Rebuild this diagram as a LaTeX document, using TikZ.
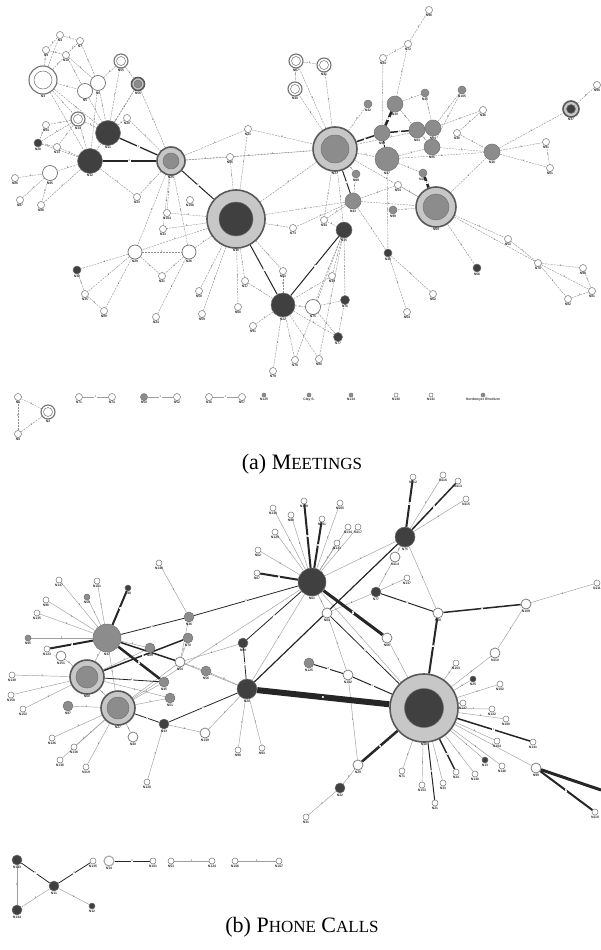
\documentclass[tikz,border=0pt]{standalone}
\usepackage{fontspec}
\setmainfont{Liberation Serif}
\newfontfamily\tinyfont{Liberation Sans}
\usetikzlibrary{backgrounds}
\pgfdeclarelayer{bg}
\pgfsetlayers{bg,main}

\begin{document}
\begin{tikzpicture}[x=1pt, y=-1pt,
		nd/.style={circle, inner sep=0pt, draw=black!55, line width=0.5pt, minimum size=#1},
		wn/.style={nd=#1, fill=white},
		gn/.style={nd=#1, fill=black!45},
		dn/.style={nd=#1, fill=black!75},
		rg/.style={nd=#1, fill=black!22, draw=black!65, line width=1.6pt},
		wr/.style={nd=#1, fill=white, draw=black!55, line width=1.1pt},
		lb/.style={font=\tinyfont\bfseries\fontsize{3.4}{3.4}\selectfont, text=black!80, inner sep=0.6pt},
		ea/.style={draw=black!45, dash pattern=on 2pt off 1pt, line width=0.4pt},
		eb/.style={draw=black!38, line width=0.45pt},
		ek/.style={draw=black!85, line width=#1},
		el/.style={font=\tinyfont\fontsize{2.8}{2.8}\selectfont, text=black!75, inner sep=0.3pt}]
	\useasboundingbox (0,0) rectangle (601,950);

	% ---------- (a) meetings ----------
	% small white nodes
	\foreach \n/\x/\y in {N4/60/35, N7/80/41, N9/46/50, N10/66/55, N20/127/118, N94/46/125,
		N13/57/147, N86/15/178, N87/20/200, N88/41/205, N23/137/197, N106/190/200,
		N31/248/129, N65/230/157, N96/429/10, N72/408/44, N34/383/58, N46/483/110, N51/546/142,
		N61/550/168, N48/457/133, N54/398/185, N104/167/213, N33/163/229, N73/293/228,
		N44/324/220, N21/162/276, N35/85/294, N89/104/311, N24/156/317, N58/199/291,
		N59/202/314, N17/245/281, N60/238/307, N63/283/271, N91/253/326, N79/273/371,
		N78/295/360, N80/319/359, N39/332/276, N62/433/294, N64/407/312, N53/508/239,
		N70/538/263, N90/583/268, N81/592/291, N82/568/299, N98/597/85}
		\node[wn=7, label={[lb]below:\n}] (a\n) at (\x,\y) {};
	% larger white nodes
	\foreach \n/\x/\y/\s in {N5/85/91/15, N6/98/83/15, N95/50/173/15, N29/135/252/14,
		N26/189/252/14, N75/313/307/15}
		\node[wn=\s, line width=0.7pt, label={[lb]below:\n}] (a\n) at (\x,\y) {};
	% white double rings
	\foreach \n/\x/\y/\s/\t in {N3/43/80/28/18, N55/121/61/14/9, N14/78/119/14/9,
		N67/296/61/14/9, N41/324/65/14/9, N40/295/89/14/9}
	{
		\node[wr=\s, label={[lb]below:\n}] (a\n) at (\x,\y) {};
		\node[wn=\t] (a\n c) at (a\n) {};
	}
	% grey nodes
	\foreach \n/\x/\y/\s in {N42/368/104/8, N45/425/93/8, N105/462/90/8, N49/356/174/8,
		N110/423/173/8, N99/393/210/8, N43/353/201/16, N30/395/104/16, N92/382/133/16,
		N83/417/130/16, N84/433/128/16, N85/432/147/16, N36/492/152/16, N47/387/159/24}
		\node[gn=\s, label={[lb]below:\n}] (a\n) at (\x,\y) {};
	% dark nodes
	\foreach \n/\x/\y/\s in {N11/108/133/25, N12/90/161/25, N22/283/305/24, N15/344/230/16,
		N28/38/143/8, N32/77/270/8, N76/345/300/9, N77/338/337/9, N38/388/253/8, N66/477/268/8}
		\node[dn=\s, label={[lb]below:\n}] (a\n) at (\x,\y) {};
	% ringed nodes
	\node[rg=13, label={[lb]below:N56}] (aN56) at (138,84) {};
	\node[gn=8] (aN56c) at (aN56) {};
	\node[rg=16, label={[lb]below:N37}] (aN37) at (571,109) {};
	\node[dn=9] (aN37c) at (aN37) {};
	\node[rg=28, label={[lb]below:N25}] (aN25) at (171,161) {};
	\node[gn=16] (aN25c) at (aN25) {};
	\node[rg=44, label={[lb]below:N27}] (aN27) at (335,149) {};
	\node[gn=28] (aN27c) at (aN27) {};
	\node[rg=58, label={[lb]below:N18}] (aN18) at (236,219) {};
	\node[dn=34] (aN18c) at (aN18) {};
	\node[rg=40, label={[lb]below:N69}] (aN69) at (436,207) {};
	\node[gn=26] (aN69c) at (aN69) {};

	% isolated meetings
	\foreach \n/\x/\y in {N1/18/397, N8/18/434, N71/79/397, N74/112/397, N52/177/397,
		N16/209/397, N57/242/397}
		\node[wn=7, label={[lb]below:\n}] (a\n) at (\x,\y) {};
	\node[wr=14, label={[lb]below:N2}] (aN2) at (48,412) {};
	\node[wn=9] (aN2c) at (aN2) {};
	\node[gn=7, label={[lb]below:N50}] (aN50) at (144,397) {};
	\foreach \n/\t/\x/\c in {I1/N125/264/45, I2/Clay S./309/45, I3/N134/351/45,
		I4/N140/396/0, I5/N141/431/0, I6/Nordmeyer Rhodium/483/45}
		\node[nd=4, fill=black!\c, label={[lb]below:\t}] (a\n) at (\x,395) {};

	\node[font=\fontsize{22}{26}\selectfont] (capa) at (302,464)
		{(a) M{\fontsize{17}{20}\selectfont EETINGS}};

	% ---------- (b) phone calls ----------
	% small white nodes
	\foreach \n/\x/\y in {N130/273/508, N80/291/515, N129/275/532, N62/258/550, N67/257/573,
		N148/159/563, N147/59/580, N121/97/581, N96/46/600, N135/37/613, N112/413/477,
		N116/443/475, N113/458/481, N115/466/499, N128/304/501, N105/340/503, N131/322/519,
		N134/348/527, N117/358/527, N133/337/543, N137/407/578, N123/47/649, N149/12/675,
		N150/11/695, N152/23/709, N126/52/738, N138/74/747, N136/60/760, N119/86/767,
		N120/147/782, N98/238/750, N93/262/748, N31/306/817, N71/402/771, N153/422/785,
		N21/435/803, N33/443/783, N34/456/772, N140/475/774, N146/502/766, N141/533/742,
		N104/497/741, N100/506/719, N122/492/709, N127/463/703, N102/500/684, N103/456/663,
		N118/595/812, N111/597/583, N145/93/861, N101/153/861, N53/171/861, N124/212/861,
		N106/235/861, N107/279/861}
		\node[wn=6, label={[lb]below:\n}] (b\n) at (\x,\y) {};
	% larger white nodes
	\foreach \n/\x/\y in {N114/395/557, N64/327/613, N58/438/613, N109/526/604, N151/61/656,
		N54/180/662, N40/133/737, N139/205/733, N66/387/638, N142/348/675, N29/358/765,
		N110/495/653, N99/536/768}
		\node[wn=10, line width=0.7pt, label={[lb]below:\n}] (b\n) at (\x,\y) {};
	\node[wr=10, draw=black!35, label={[lb]below:N14}] (bN14) at (109,861) {};
	% grey nodes
	\foreach \n/\x/\y/\s in {N95/28/638/6, N50/87/597/6, N36/189/617/10, N89/150/648/10,
		N70/188/638/10, N56/206/671/10, N45/164/682/10, N51/170/698/10, N97/68/706/10,
		N125/309/663/10, N47/107/638/28}
		\node[gn=\s, label={[lb]below:\n}] (b\n) at (\x,\y) {};
	% dark nodes
	\foreach \n/\x/\y/\s in {N48/128/588/6, N25/473/679/6, N13/485/760/6, N77/376/592/10,
		N69/243/643/10, N43/164/724/10, N22/340/788/10, N61/312/582/28, N75/405/537/20,
		N20/247/689/20, N143/17/860/10, N144/17/910/10, N11/54/886/10, N12/92/906/6}
		\node[dn=\s, label={[lb]below:\n}] (b\n) at (\x,\y) {};
	% ringed nodes
	\node[rg=34, label={[lb]below:N68}] (bN68) at (87,677) {};
	\node[gn=22] (bN68c) at (bN68) {};
	\node[rg=34, label={[lb]below:N27}] (bN27) at (118,708) {};
	\node[gn=22] (bN27c) at (bN27) {};
	\node[rg=68, label={[lb]below:N18}] (bN18) at (424,708) {};
	\node[dn=39] (bN18c) at (bN18) {};
	\coordinate (bout) at (601,790);

	\node[font=\fontsize{22}{26}\selectfont] (capb) at (302,927)
		{(b) P{\fontsize{17}{20}\selectfont HONE} C{\fontsize{17}{20}\selectfont ALLS}};

	% ---------- connectors ----------
	\begin{pgfonlayer}{bg}
		% meetings
		\foreach \u/\v/\w in {N3/N9/1, N3/N4/1, N3/N10/2, N3/N5/1, N3/N11/1, N3/N12/1, N3/N14/1,
			N4/N7/1, N4/N9/1, N7/N10/1, N9/N10/1, N10/N5/1, N10/N6/1, N7/N6/1, N5/N6/2, N5/N11/1,
			N6/N11/1, N6/N12/1, N55/N56/1, N55/N11/1, N55/N6/1, N56/N11/1, N56/N12/1, N56/N25/1,
			N14/N94/1, N14/N11/1, N14/N12/1, N14/N13/1, N14/N28/1, N28/N13/1, N28/N12/1,
			N94/N28/1, N11/N20/1, N20/N25/1, N12/N95/2, N12/N88/1, N12/N13/1, N95/N86/1,
			N95/N87/1, N95/N88/1, N12/N23/1, N25/N31/1, N25/N65/1, N25/N27/2, N25/N23/1,
			N25/N104/1, N25/N33/1, N25/N26/1, N25/N29/1, N18/N27/2, N18/N26/1,
			N18/N29/1, N18/N104/1, N18/N33/1, N18/N73/1, N18/N17/1, N18/N58/1, N18/N59/1,
			N18/N43/2, N18/N60/1, N18/N31/1, N18/N65/1, N31/N27/1, N65/N27/1,
			N27/N67/1, N27/N41/1, N27/N40/1, N27/N42/1, N27/N47/2, N27/N49/1, N27/N84/1,
			N27/N69/1, N27/N44/1, N67/N41/1, N67/N40/1, N34/N72/1, N72/N96/1, N34/N92/1,
			N72/N30/1, N30/N45/1, N30/N83/1, N45/N84/1, N105/N84/1, N105/N85/1, N46/N84/1,
			N46/N48/1, N83/N84/2, N84/N85/1, N85/N47/1, N85/N36/1, N48/N36/1, N47/N36/1,
			N47/N110/1, N83/N85/1, N36/N37/1, N36/N51/1, N36/N61/1, N51/N61/1, N37/N98/1,
			N36/N69/1, N69/N53/1, N53/N70/1, N69/N70/1, N70/N90/1, N70/N81/1, N70/N82/1,
			N90/N81/1, N82/N81/1, N69/N66/1, N69/N54/1, N69/N99/1, N43/N49/1, N43/N73/1,
			N43/N44/1, N44/N15/1, N15/N39/1, N15/N76/1, N15/N75/1, N15/N80/1, N15/N78/1,
			N22/N63/1, N22/N17/1, N22/N91/1, N22/N79/1, N22/N78/1, N22/N75/2, N22/N77/1,
			N22/N39/1, N22/N80/1, N75/N76/1, N75/N77/1, N76/N77/1, N43/N38/1, N38/N62/1,
			N38/N64/1, N47/N38/1, N29/N32/1, N29/N35/1, N29/N89/1, N29/N26/1, N29/N21/1,
			N26/N21/1, N26/N24/1, N32/N35/1, N35/N89/1, N18/N63/1, N43/N69/1, N54/N43/1,
			N27/N15/1, N1/N8/1, N1/N2/1, N8/N2/1}
			\draw[ea] (a\u) -- node[el]{\w} (a\v);
		\foreach \u/\v/\w in {N71/N74/1, N50/N52/1, N16/N57/1}
			\draw[eb] (a\u) -- node[el, fill=white]{\w} (a\v);
		\foreach \u/\v/\t in {N11/N25/1.3pt, N12/N25/1.3pt, N25/N18/1pt, N18/N22/1pt,
			N27/N92/1.5pt, N27/N43/1pt, N83/N92/1.5pt, N110/N69/2.5pt, N15/N22/1pt,
			N92/N47/1pt, N30/N92/2.5pt}
			\draw[ek=\t] (a\u) -- node[el, fill=white]{2} (a\v);

		% phone calls
		\foreach \u/\v/\w in {N61/N130/1, N61/N80/1, N61/N129/1, N61/N62/1, N61/N105/1,
			N61/N134/1, N61/N117/1, N61/N133/1, N61/N64/1, N61/N18/1, N61/N75/1, N75/N116/1,
			N75/N115/1, N75/N114/1, N75/N58/1, N77/N137/1, N77/N114/1, N77/N64/1, N109/N111/1,
			N109/N110/1, N18/N66/1, N18/N71/1, N18/N153/1, N18/N33/1, N18/N140/1, N18/N13/1,
			N18/N146/1, N18/N99/1, N18/N104/1, N18/N100/1, N18/N122/1, N18/N127/1, N18/N102/1,
			N18/N25/1, N18/N103/1, N18/N110/1, N142/N29/1, N64/N142/1, N29/N22/1, N22/N31/1,
			N20/N98/1, N20/N93/1, N20/N56/1, N20/N139/1, N20/N54/1, N20/N61/1, N47/N95/1,
			N47/N147/1, N47/N121/1, N47/N50/1, N47/N96/1, N47/N135/1, N47/N68/1, N47/N27/1,
			N47/N89/1, N68/N149/1, N68/N150/1, N68/N152/1, N68/N151/1, N68/N27/1, N68/N51/1,
			N68/N89/1, N27/N126/1, N27/N138/1, N27/N136/1, N27/N119/1, N27/N97/1, N27/N45/1,
			N27/N51/1, N27/N40/1, N27/N54/1, N27/N61/1, N43/N120/1, N43/N139/1, N36/N148/1,
			N36/N54/1, N54/N70/1, N54/N56/1, N54/N69/1, N143/N144/1, N144/N11/1, N11/N12/1,
			N53/N124/1, N106/N107/1}
			\draw[eb] (b\u) -- node[el]{\w} (b\v);
		\foreach \u/\v/\t in {N61/N67/2pt, N61/N128/2pt, N61/N131/2pt, N61/N66/3pt,
			N75/N112/2pt, N75/N113/1.5pt, N20/N75/1.2pt, N77/N58/1pt, N58/N109/1.5pt,
			N58/N18/2pt, N18/N142/1pt, N18/N20/6pt, N18/N29/2.5pt, N18/N21/1pt, N18/N34/1.5pt,
			N18/N141/1.5pt, N18/N64/0.8pt, N99/N118/2pt, N125/N142/1pt, N20/N69/0.8pt,
			N20/N43/0.8pt, N47/N123/2pt, N47/N48/2pt, N47/N36/0.8pt, N36/N61/0.8pt,
			N47/N45/2.5pt, N68/N70/1.5pt, N47/N54/1.5pt, N68/N45/0.8pt, N27/N43/0.8pt,
			N69/N61/0.8pt, N143/N11/0.8pt, N11/N145/0.8pt, N14/N101/0.8pt}
			\draw[ek=\t] (b\u) -- node[el, fill=white]{2} (b\v);
		\draw[ek=3pt] (bN99) -- (bout);
	\end{pgfonlayer}
\end{tikzpicture}
\end{document}
